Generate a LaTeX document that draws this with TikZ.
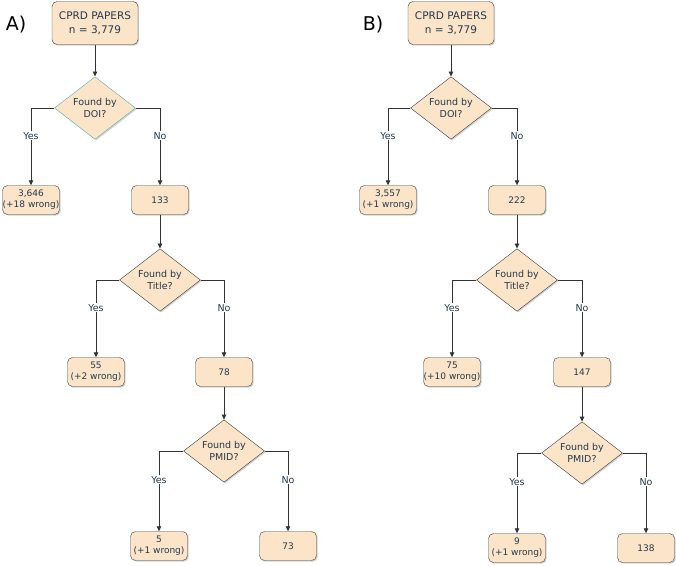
\documentclass[tikz,border=0pt]{standalone}
\usepackage{fontspec}
\setmainfont{DejaVu Sans}
\usetikzlibrary{arrows.meta,positioning,shapes.geometric,shadows}
\definecolor{boxfill}{RGB}{251,228,199}
\definecolor{boxline}{RGB}{60,60,60}
\definecolor{txt}{RGB}{35,58,78}
\definecolor{tealline}{RGB}{90,175,168}

\begin{document}
\begin{tikzpicture}[x=1pt,y=-1pt,
  b/.style={draw=boxline,fill=boxfill,rounded corners=5pt,align=center,text=txt,
    font=\fontsize{9}{11}\selectfont,minimum width=57pt,minimum height=29pt,inner xsep=0pt,inner ysep=1pt,
    drop shadow={shadow xshift=1.2pt,shadow yshift=-1.2pt,fill=black,opacity=0.18}},
  top/.style={b,minimum width=86pt,minimum height=43pt,font=\fontsize{10.5}{13.5}\selectfont},
  q/.style={diamond,draw=boxline,fill=boxfill,align=center,text=txt,
    font=\fontsize{9.5}{11.5}\selectfont,minimum width=81pt,minimum height=54pt,inner sep=0pt,
    drop shadow={shadow xshift=1.2pt,shadow yshift=-1.2pt,fill=black,opacity=0.18}},
  ar/.style={-{Triangle[length=5pt,width=4.5pt]},draw=black!80,line width=0.8pt},
  lab/.style={fill=white,text=txt,font=\fontsize{9.5}{11}\selectfont,inner sep=1pt},
  panel/.style={font=\fontsize{19}{21}\selectfont}]
\useasboundingbox (0,0) rectangle (676,565);

% panel A
\node[panel] (Alab) at (16,25) {A)};
\node[top] (Atop) at (95,23) {CPRD PAPERS\\n = 3,779};
\node[q,draw=tealline] (Adoi) at (95,108) {Found by\\DOI?};
\node[b] (Ayes1) at (31,200) {3,646\\(+18 wrong)};
\node[b] (Ano1) at (160,200) {133};
\node[q] (Atitle) at (160,280) {Found by\\Title?};
\node[b] (Ayes2) at (96,372) {55\\(+2 wrong)};
\node[b] (Ano2) at (224,372) {78};
\node[q] (Apmid) at (224,451) {Found by\\PMID?};
\node[b] (Ayes3) at (159,546) {5\\(+1 wrong)};
\node[b] (Ano3) at (288,546) {73};

\draw[ar] (Atop) -- (Adoi);
\draw[ar] (Adoi) -| node[lab,pos=0.68]{Yes} (Ayes1);
\draw[ar] (Adoi) -| node[lab,pos=0.68]{No} (Ano1);
\draw[ar] (Ano1) -- (Atitle);
\draw[ar] (Atitle) -| node[lab,pos=0.68]{Yes} (Ayes2);
\draw[ar] (Atitle) -| node[lab,pos=0.68]{No} (Ano2);
\draw[ar] (Ano2) -- (Apmid);
\draw[ar] (Apmid) -| node[lab,pos=0.68]{Yes} (Ayes3);
\draw[ar] (Apmid) -| node[lab,pos=0.68]{No} (Ano3);

% panel B
\node[panel] (Blab) at (373,25) {B)};
\node[top] (Btop) at (451,23) {CPRD PAPERS\\n = 3,779};
\node[q] (Bdoi) at (451,108) {Found by\\DOI?};
\node[b] (Byes1) at (388,200) {3,557\\(+1 wrong)};
\node[b] (Bno1) at (517,200) {222};
\node[q] (Btitle) at (517,280) {Found by\\Title?};
\node[b] (Byes2) at (452,372) {75\\(+10 wrong)};
\node[b] (Bno2) at (582,372) {147};
\node[q] (Bpmid) at (582,453) {Found by\\PMID?};
\node[b] (Byes3) at (517,548) {9\\(+1 wrong)};
\node[b] (Bno3) at (646,548) {138};

\draw[ar] (Btop) -- (Bdoi);
\draw[ar] (Bdoi) -| node[lab,pos=0.68]{Yes} (Byes1);
\draw[ar] (Bdoi) -| node[lab,pos=0.68]{No} (Bno1);
\draw[ar] (Bno1) -- (Btitle);
\draw[ar] (Btitle) -| node[lab,pos=0.68]{Yes} (Byes2);
\draw[ar] (Btitle) -| node[lab,pos=0.68]{No} (Bno2);
\draw[ar] (Bno2) -- (Bpmid);
\draw[ar] (Bpmid) -| node[lab,pos=0.68]{Yes} (Byes3);
\draw[ar] (Bpmid) -| node[lab,pos=0.68]{No} (Bno3);
\end{tikzpicture}
\end{document}
